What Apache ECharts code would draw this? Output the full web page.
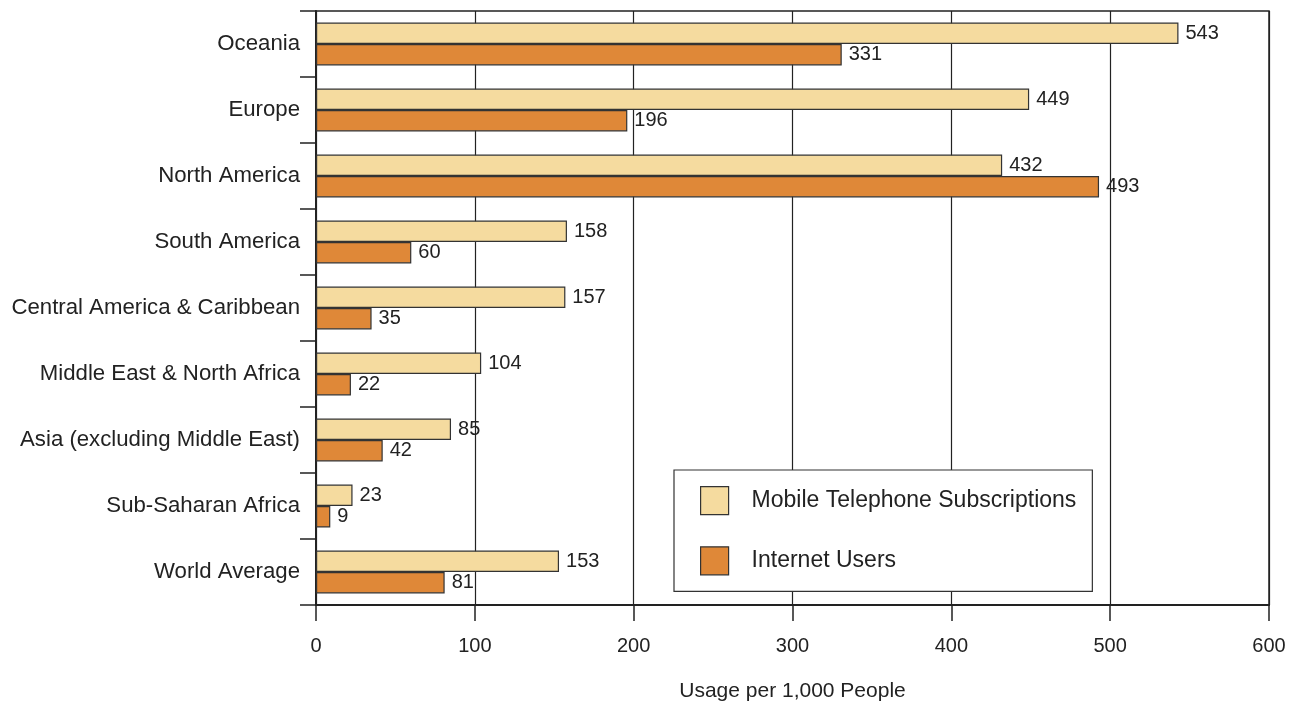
<!DOCTYPE html>
<html>
<head>
<meta charset="utf-8">
<script src="https://cdn.jsdelivr.net/npm/echarts@6/dist/echarts.min.js"></script>
<style>
html,body{margin:0;padding:0;background:#fff;}
#chart{width:1294px;height:706px;}
</style>
</head>
<body>
<div id="chart"></div>
<script>
var categories = ["Oceania","Europe","North America","South America","Central America & Caribbean","Middle East & North Africa","Asia (excluding Middle East)","Sub-Saharan Africa","World Average"];
var mobileSubs = [543,449,432,158,157,104,85,23,153];
var internetUsers = [331,196,493,60,35,22,42,9,81];
var xTicks = [0,100,200,300,400,500,600];

var FONT = "Liberation Sans";
var chart = echarts.init(document.getElementById('chart'));
chart.setOption({
  backgroundColor: '#fff',
  animation: false,
  textStyle: {fontFamily: FONT},
  grid: {left: 316, right: 25, top: 11, bottom: 101, outerBoundsMode: 'none', containLabel: false,
         show: true, borderColor: '#222', borderWidth: 1.5, backgroundColor: 'transparent'},
  legend: {
    orient: 'vertical', left: 674, top: 470,
    padding: [16, 16, 16, 26],
    backgroundColor: '#fff', borderColor: '#333', borderWidth: 1.2,
    itemWidth: 28, itemHeight: 28, itemGap: 31,
    icon: 'rect',
    itemStyle: {borderColor: '#333', borderWidth: 1.2},
    textStyle: {fontFamily: FONT, fontSize: 23, color: '#222', padding: [0,0,0,18]},
    data: ["Mobile Telephone Subscriptions","Internet Users"]
  },
  xAxis: {
    type: 'value', min: 0, max: 600, interval: 100,
    name: 'Usage per 1,000 People', nameLocation: 'middle', nameGap: 76,
    nameTextStyle: {fontFamily: FONT, fontSize: 21, color: '#222'},
    axisLine: {show: true, lineStyle: {color: '#222', width: 2}},
    axisTick: {show: true, length: 16, inside: false, lineStyle: {color: '#222', width: 1.5}},
    axisLabel: {fontFamily: FONT, fontSize: 20, color: '#222', margin: 31,
      formatter: function(v){ return xTicks.indexOf(v) >= 0 ? String(v) : ''; }},
    splitLine: {show: true, lineStyle: {color: '#222', width: 1.2}}
  },
  yAxis: {
    type: 'category', data: categories, inverse: true,
    axisLine: {show: true, lineStyle: {color: '#222', width: 2}},
    axisTick: {show: true, length: 16, lineStyle: {color: '#222', width: 1.5}},
    axisLabel: {fontFamily: FONT, fontSize: 22.2, color: '#222', margin: 16}
  },
  series: [
    {name: "Mobile Telephone Subscriptions", type: 'bar', data: mobileSubs,
     barGap: '0%', barCategoryGap: '35%',
     itemStyle: {color: '#F5DB9F', borderColor: '#333', borderWidth: 1.2},
     label: {show: true, position: 'right', distance: 7, fontFamily: FONT, fontSize: 20, color: '#222'}},
    {name: "Internet Users", type: 'bar', data: internetUsers,
     barGap: '0%', barCategoryGap: '35%',
     itemStyle: {color: '#DF8838', borderColor: '#333', borderWidth: 1.2},
     label: {show: true, position: 'right', distance: 7, fontFamily: FONT, fontSize: 20, color: '#222'}}
  ]
});
</script>
</body>
</html>
